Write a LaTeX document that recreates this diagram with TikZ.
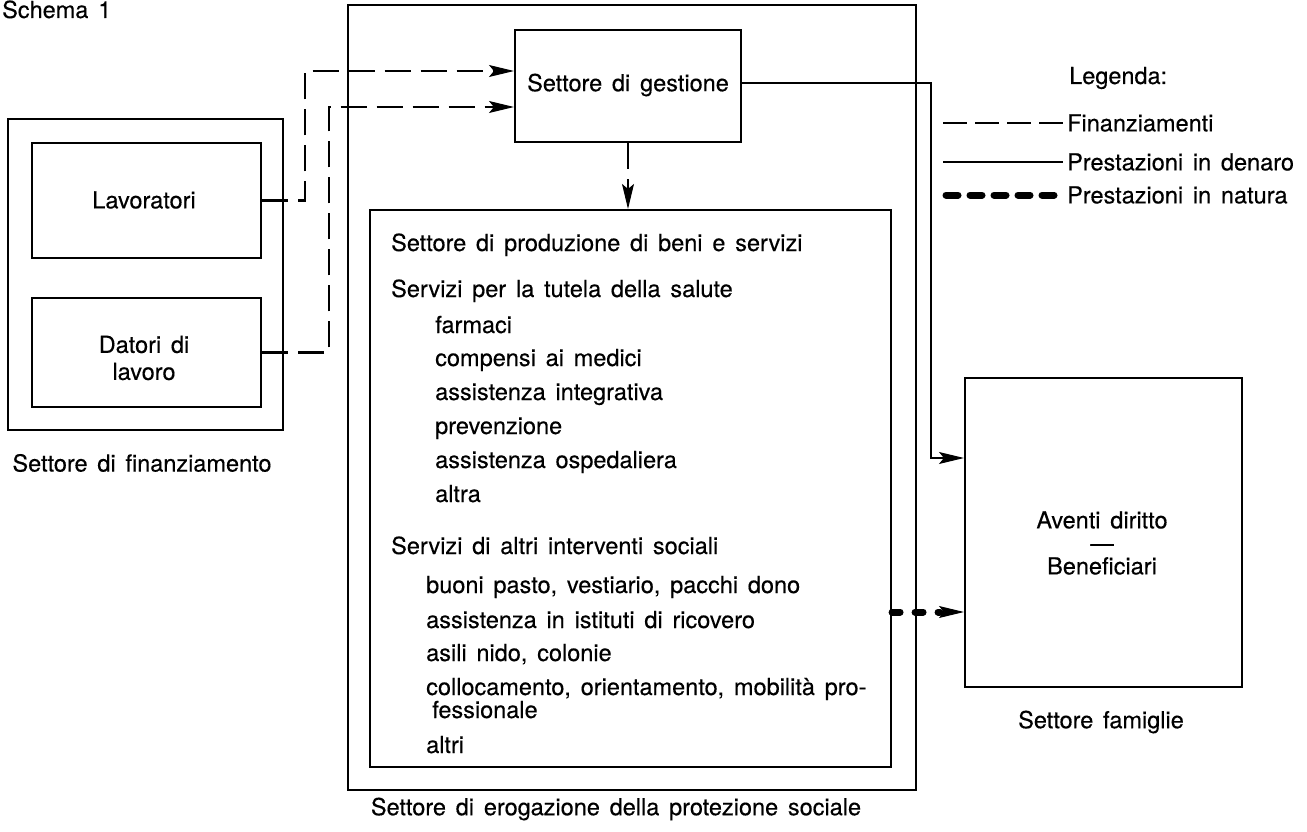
\documentclass[tikz,border=0pt]{standalone}
\usepackage{fontspec}
\setmainfont{TeX Gyre Heros}[WordSpace=1.5, FakeBold=0.3]
\usetikzlibrary{arrows.meta,calc}
\begin{document}
\begin{tikzpicture}[x=1pt,y=-1pt,
  lbl/.style={font=\fontsize{23.5}{27}\selectfont, inner sep=2pt},
  box/.style={draw, line width=2.1pt, inner sep=0pt},
  tip/.style={-{Stealth[length=25pt,width=12pt,inset=5pt,line width=1pt]}},
  fin/.style={line width=2.3pt, dash pattern=on 26pt off 10pt, tip},
  den/.style={line width=2pt, tip},
  nat/.style={line width=7pt, line cap=round, dash pattern=on 8pt off 15pt},
  item/.style={lbl, anchor=base west}]
\useasboundingbox (0,0) rectangle (1307,832);

\node[item] (schema) at (0,18) {Schema 1};

% Settore di finanziamento
\node[box, minimum width=275, minimum height=311] (finbox) at (145.5,274.5) {};
\node[box, minimum width=229, minimum height=115] (lav) at (146.5,200.5) {};
\node[lbl] (lavt) at (144,200) {Lavoratori};
\node[box, minimum width=229, minimum height=109] (dat) at (146.5,352.5) {};
\node[lbl, align=center] (datt) at (144,358) {Datori di\\lavoro};
\node[lbl] (finlbl) at (142,463) {Settore di finanziamento};

% Settore di erogazione
\node[box, minimum width=568, minimum height=785] (ero) at (632,397.5) {};
\node[box, minimum width=226, minimum height=112] (gest) at (628,86) {};
\node[lbl] (gestt) at (628,85) {Settore di gestione};
\node[box, minimum width=521, minimum height=557] (prod) at (630.5,488.5) {};
\node[lbl] (erolbl) at (616,809) {Settore di erogazione della protezione sociale};

\node[item] (p1) at (389,251) {Settore di produzione di beni e servizi};
\node[item] (p2) at (389,297) {Servizi per la tutela della salute};
\node[item] (p3) at (433,333) {farmaci};
\node[item] (p4) at (433,366) {compensi ai medici};
\node[item] (p5) at (433,400) {assistenza integrativa};
\node[item] (p6) at (433,434) {prevenzione};
\node[item] (p7) at (433,468) {assistenza ospedaliera};
\node[item] (p8) at (433,502) {altra};
\node[item] (q1) at (389,554) {Servizi di altri interventi sociali};
\node[item] (q2) at (424,593) {buoni pasto, vestiario, pacchi dono};
\node[item] (q3) at (424,628) {assistenza in istituti di ricovero};
\node[item] (q4) at (424,661) {asili nido, colonie};
\node[item] (q5) at (424,695) {collocamento, orientamento, mobilità pro-};
\node[item] (q6) at (430,718) {fessionale};
\node[item] (q7) at (424,753) {altri};

% Settore famiglie
\node[box, minimum width=277, minimum height=309] (fam) at (1103.5,532.5) {};
\node[lbl, align=center, font=\fontsize{23.5}{23}\selectfont] (famtxt) at (1102,543) {Aventi diritto\\—\\Beneficiari};
\node[lbl] (famlbl) at (1101,722) {Settore famiglie};

% Finanziamenti
\coordinate (l1) at (305,71);
\coordinate (d1) at (329,107);
\draw[fin] (lav.east) -- (lav.east -| l1) -- (l1) -- (l1 -| gest.west);
\draw[fin] (dat.east) -- (dat.east -| d1) -- (d1) -- (d1 -| gest.west);
\draw[fin] (gest.south) -- (gest.south |- prod.north);

% Prestazioni in denaro
\coordinate (r1) at (931,83);
\coordinate (r2) at (931,458);
\draw[den] (gest.east |- r1) -- (r1) -- (r2) -- (r2 -| fam.west);

% Prestazioni in natura
\coordinate (n1) at (891,612);
\draw[nat] (prod.east |- n1) -- ($(n1 -| fam.west)+(-24,0)$);
\draw[line width=2pt, tip] ($(n1 -| fam.west)+(-26,0)$) -- (n1 -| fam.west);

% Legenda
\node[item] (leg) at (1067,84) {Legenda:};
\node[lbl, anchor=west] (t1) at (1065,123) {Finanziamenti};
\node[lbl, anchor=west] (t2) at (1065,162) {Prestazioni in denaro};
\node[lbl, anchor=west] (t3) at (1065,195) {Prestazioni in natura};
\coordinate (k1) at (943,123);
\coordinate (k2) at (943,162);
\coordinate (k3) at (946,195);
\draw[line width=2.3pt, dash pattern=on 24pt off 8pt] (k1) -- ($(t1.west)+(-2,0)$);
\draw[line width=2pt] (k2) -- ($(t2.west)+(-2,0)$);
\draw[nat, dash pattern=on 12pt off 12pt] (k3) -- ($(t3.west)+(-6,0)$);
\end{tikzpicture}
\end{document}
